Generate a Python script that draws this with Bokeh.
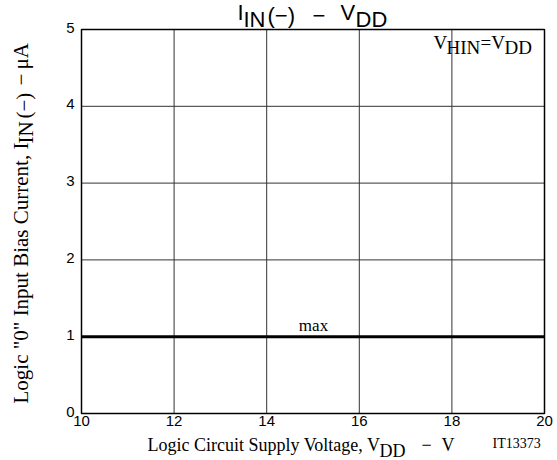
from bokeh.plotting import figure
from bokeh.models import Label, Range1d
from bokeh.core.properties import value
from bokeh.embed import file_html
from bokeh.resources import INLINE

# ---- data ----
vdd = [10, 20]                 # Logic circuit supply voltage, V
iin_max = [1.0, 1.0]           # max input bias current, uA
x_ticks = [10, 12, 14, 16, 18, 20]
y_ticks = [0, 1, 2, 3, 4, 5]
x_tick_labels = ["10", "12", "14", "16", "18", "20"]
y_tick_labels = ["0", "1", "2", "3", "4", "5"]
curve_label = "max"

# ---- layout constants (page pixels of the plotting box) ----
W, H = 557, 460
FL, FR, FT, FB = 81, 544, 29, 413
X0, X1 = min(x_ticks), max(x_ticks)
Y0, Y1 = min(y_ticks), max(y_ticks)


def dx(px):
    return X0 + (px - FL) / (FR - FL) * (X1 - X0)


def dy(py):
    return Y0 + (FB - py) / (FB - FT) * (Y1 - Y0)


p = figure(width=W, height=H, output_backend="svg", toolbar_location=None,
           x_range=Range1d(dx(0), dx(W)), y_range=Range1d(dy(H), dy(0)),
           min_border=0)
p.min_border_left = p.min_border_right = 0
p.min_border_top = p.min_border_bottom = 0
p.axis.visible = False
p.grid.visible = False
p.outline_line_color = None
p.background_fill_color = "white"
p.border_fill_color = "white"

# grid lines
inner_x = x_ticks[1:-1]
inner_y = y_ticks[1:-1]
p.segment(x0=inner_x, y0=[Y0] * len(inner_x), x1=inner_x, y1=[Y1] * len(inner_x),
          line_color="#333333", line_width=1)
p.segment(x0=[X0] * len(inner_y), y0=inner_y, x1=[X1] * len(inner_y), y1=inner_y,
          line_color="#333333", line_width=1)

# data line
p.line(vdd, iin_max, line_color="black", line_width=3)

# plot box
p.quad(left=[X0], right=[X1], bottom=[Y0], top=[Y1], fill_color=None,
       line_color="black", line_width=1.5)

# tick labels
p.text(x=x_ticks, y=[Y0] * len(x_ticks), text=x_tick_labels,
       text_font=value("Liberation Sans"), text_font_size="15px",
       text_color="black", text_align="center", text_baseline="top",
       y_offset=2)
p.text(x=[X0] * len(y_ticks), y=y_ticks, text=y_tick_labels,
       text_font=value("Liberation Sans"), text_font_size="15px",
       text_color="black", text_align="right", text_baseline="middle",
       x_offset=-7, y_offset=-2)


def lab(px, py, text, font="Liberation Serif", size=18, angle=0, align="left"):
    p.add_layout(Label(x=dx(px), y=dy(py),
                       text=text, text_font=font,
                       text_font_size=f"{size}px", text_color="black",
                       text_align=align, text_baseline="alphabetic",
                       angle=angle, angle_units="deg"))


# curve label
lab(313, 325, curve_label, size=17, align="center")

# condition label V_HIN = V_DD
lab(433, 42, "V", size=19)
lab(446, 47, "HIN", size=19)
lab(480, 42, "=V", size=19)
lab(504, 47, "DD", size=19)

# title I_IN(-) - V_DD
TF = "Liberation Sans"
lab(237, 12, "I", font=TF, size=22)
lab(243, 19, "IN", font=TF, size=22)
lab(267, 15, "(\u2212)", font=TF, size=22)
lab(312, 15, "\u2212", font=TF, size=22)
lab(340, 12, "V", font=TF, size=22)
lab(355, 19, "DD", font=TF, size=22)

# x axis label
lab(147, 444, "Logic Circuit Supply Voltage, V", size=18)
lab(379, 450, "DD", size=18)
lab(421, 444, "\u2212", size=18)
lab(441, 444, "V", size=18)
lab(492, 443, "IT13373", size=14)

# y axis label (rotated)
lab(20, 403, 'Logic "0" Input Bias Current, I', size=21, angle=90)
lab(25, 143, "IN", size=21, angle=90)
lab(23, 118, "(\u2212)", size=21, angle=90)
lab(20, 85, "\u2212", size=21, angle=90)
lab(20, 69, "\u03bcA", size=21, angle=90)

open("out.html", "w").write(file_html(p, INLINE))
